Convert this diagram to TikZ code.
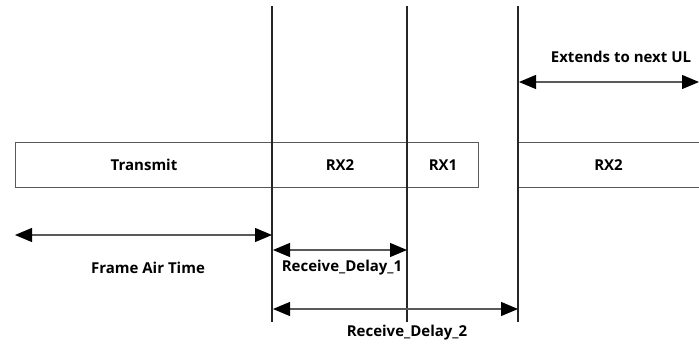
\documentclass[tikz,border=0pt]{standalone}
\usepackage{fontspec}
\setmainfont{Open Sans}
\usetikzlibrary{arrows.meta}
\begin{document}
\begin{tikzpicture}[x=1pt,y=-1pt,
  slot/.style={draw=black!65,line width=1pt,minimum height=45pt,inner sep=0pt,anchor=north west,font=\bfseries\fontsize{15}{17}\selectfont},
  marker/.style={draw=black!85,line width=1.4pt},
  span/.style={draw=black!65,line width=1.2pt,{Triangle[length=17pt,width=14pt,color=black]}-{Triangle[length=17pt,width=14pt,color=black]}},
  lbl/.style={font=\bfseries\fontsize{15}{17}\selectfont,inner sep=0pt}]
\useasboundingbox (0,0) rectangle (699,347);
\clip (0,0) rectangle (699,347);
% boxes
\node[slot,minimum width=257pt] (tx) at (15,142) {Transmit};
\node[slot,minimum width=135pt] (rxa) at (272,142) {RX2};
\node[slot,minimum width=71pt] (rxb) at (407,142) {RX1};
\node[slot,minimum width=190pt] (rxc) at (518,142) {\hspace*{-10pt}RX2};
% vertical markers
\coordinate (v1t) at (272,6); \coordinate (v1b) at (272,322);
\coordinate (v2t) at (407,6); \coordinate (v2b) at (407,322);
\coordinate (v3t) at (518,6); \coordinate (v3b) at (518,322);
\draw[marker] (v1t) -- (v1b);
\draw[marker] (v2t) -- (v2b);
\draw[marker] (v3t) -- (v3b);
% spans
\coordinate (fa) at (15,235); \coordinate (fb) at (272,235);
\draw[span] (fa) -- (fb);
\node[lbl] (flbl) at (148,268) {Frame Air Time};
\coordinate (d1a) at (273,250); \coordinate (d1b) at (407,250);
\draw[span] (d1a) -- (d1b);
\node[lbl] (d1lbl) at (342,268) {Receive\_Delay\_1};
\coordinate (d2a) at (273,309); \coordinate (d2b) at (518,309);
\draw[span] (d2a) -- (d2b);
\node[lbl] (d2lbl) at (407,333) {Receive\_Delay\_2};
\coordinate (ea) at (519,82); \coordinate (eb) at (699,82);
\draw[span] (ea) -- (eb);
\node[lbl] (elbl) at (621,57) {Extends to next UL};
\end{tikzpicture}
\end{document}
